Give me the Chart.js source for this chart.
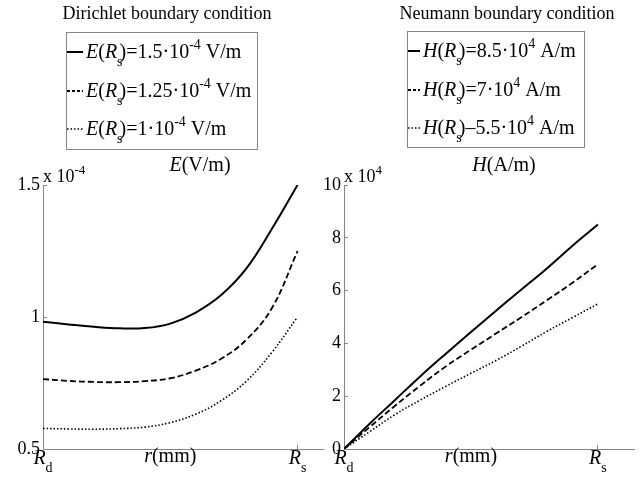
<!DOCTYPE html>
<html>
<head>
<meta charset="utf-8">
<script src="https://cdn.jsdelivr.net/npm/chart.js@4/dist/chart.umd.min.js"></script>
<style>
  body { margin: 0; background: #fff; }
  #wrap { position: relative; width: 642px; height: 479px; }
  #wrap canvas { position: absolute; left: 0; top: 0; }
</style>
</head>
<body>
<div id="wrap">
  <canvas id="chartE" width="642" height="479"></canvas>
  <canvas id="chartH" width="642" height="479"></canvas>
</div>
<script>
// r positions, 0 = Rd, 1 = Rs
var rPos = [0, 0.1, 0.2, 0.3, 0.4, 0.5, 0.6, 0.7, 0.8, 0.9, 1.0];

// Dirichlet: E (x 10^-4 V/m)
var eSolid  = [0.982, 0.972, 0.963, 0.957, 0.958, 0.975, 1.017, 1.083, 1.185, 1.335, 1.5];
var eDashed = [0.765, 0.758, 0.754, 0.753, 0.757, 0.768, 0.797, 0.842, 0.915, 1.035, 1.25];
var eDotted = [0.578, 0.576, 0.575, 0.577, 0.583, 0.600, 0.632, 0.683, 0.758, 0.867, 1.0];

// Neumann: H (x 10^4 A/m)
var hSolid  = [0, 0.95, 1.85, 2.75, 3.6, 4.43, 5.25, 6.05, 6.85, 7.7, 8.5];
var hDashed = [0, 0.82, 1.63, 2.4, 3.12, 3.76, 4.38, 5.0, 5.64, 6.3, 7.0];
var hDotted = [0, 0.65, 1.3, 1.85, 2.37, 2.87, 3.36, 3.9, 4.46, 4.98, 5.5];

var eTicks = [0.5, 1, 1.5];
var hTicks = [0, 2, 4, 6, 8, 10];
var xTickVals = [0, 1];
var xTickSubs = ['d', 's'];

var eLegend = ['=1.5\u00b710', '=1.25\u00b710', '=1\u00b710'];
var hLegend = ['=8.5\u00b710', '=7\u00b710', '\u20135.5\u00b710'];

var FAM = "'Liberation Serif','Times New Roman',serif";
var AXIS = '#858585';
var dashes = [[], [6, 3], [1.5, 2]];
var widths = [2, 1.8, 1.6];

// draws text runs: [text, 'n' | 'i' | 'sub' | 'sup']
function richText(ctx, segs, x, y, size, align, subAdv) {
  var parts = segs.map(function (s) {
    var small = s[1] === 'sub' || s[1] === 'sup';
    var fs = small ? Math.round(size * 0.7) : size;
    var font = (s[1] === 'i' ? 'italic ' : '') + fs + 'px ' + FAM;
    ctx.font = font;
    var w = ctx.measureText(s[0]).width;
    var dy = s[1] === 'sub' ? size * 0.38 : (s[1] === 'sup' ? -size * 0.45 : 0);
    return { t: s[0], font: font, w: s[1] === 'sub' ? w * (subAdv || 0.45) : w, dy: dy };
  });
  var total = parts.reduce(function (a, p) { return a + p.w; }, 0);
  var cx = align === 'center' ? x - total / 2 : x;
  ctx.save();
  ctx.fillStyle = '#000';
  ctx.textAlign = 'left';
  ctx.textBaseline = 'alphabetic';
  parts.forEach(function (p) {
    ctx.font = p.font;
    ctx.fillText(p.t, cx, y + p.dy);
    cx += p.w;
  });
  ctx.restore();
}

function makeSets(arrs) {
  return arrs.map(function (a, i) {
    return {
      data: a.map(function (v, k) { return { x: rPos[k], y: v }; }),
      borderColor: '#000',
      borderWidth: widths[i],
      borderDash: dashes[i],
      pointRadius: 0,
      tension: 0.4,
      fill: false
    };
  });
}

function decorPlugin(cfg) {
  return {
    id: 'decor',
    afterDraw: function (chart) {
      var ctx = chart.ctx;
      var xs = chart.scales.x;
      var area = chart.chartArea;
      // title
      richText(ctx, [[cfg.title, 'n']], cfg.titleX, 19, 18, 'center');
      // legend box
      ctx.save();
      ctx.strokeStyle = AXIS;
      ctx.lineWidth = 1;
      ctx.strokeRect(cfg.box[0] + 0.5, cfg.box[1] + 0.5, cfg.box[2], cfg.box[3]);
      ctx.restore();
      for (var i = 0; i < 3; i++) {
        var by = cfg.rowY[i];
        ctx.save();
        ctx.strokeStyle = '#000';
        ctx.lineWidth = widths[i];
        ctx.setLineDash(i === 1 ? [3, 2] : dashes[i]);
        ctx.beginPath();
        ctx.moveTo(cfg.sample[0], by - 6);
        ctx.lineTo(cfg.sample[1], by - 6);
        ctx.stroke();
        ctx.restore();
        richText(ctx, [[cfg.sym, 'i'], ['(', 'n'], ['R', 'i'], ['s', 'sub'],
          [')' + cfg.legend[i], 'n'], [cfg.exp, 'sup'], [' ' + cfg.unit, 'n']],
          cfg.sample[1] + 3, by, 20, 'left');
      }
      // quantity label
      richText(ctx, [[cfg.sym, 'i'], ['(' + cfg.unit + ')', 'n']], cfg.unitX, 171, 20, 'center');
      // exponent
      richText(ctx, [['x 10', 'n'], [cfg.exp, 'sup']], area.left, 182, 18, 'left');
      // x tick labels Rd, Rs
      xTickVals.forEach(function (v, k) {
        richText(ctx, [['R', 'i'], [xTickSubs[k], 'sub']], xs.getPixelForValue(v), 464, 20, 'center', 1);
      });
      var mid = (xs.getPixelForValue(0) + xs.getPixelForValue(1)) / 2;
      richText(ctx, [['r', 'i'], ['(mm)', 'n']], mid, 462, 20, 'center');
    }
  };
}

function makeChart(id, sets, yMin, yMax, yTicks, xMax, pad, yWidth, deco) {
  return new Chart(document.getElementById(id), {
    type: 'line',
    data: { datasets: makeSets(sets) },
    options: {
      responsive: false,
      animation: false,
      layout: { padding: pad },
      plugins: { legend: { display: false }, tooltip: { enabled: false } },
      scales: {
        x: {
          type: 'linear', min: 0, max: xMax,
          afterBuildTicks: function (s) { s.ticks = xTickVals.map(function (v) { return { value: v }; }); },
          afterFit: function (s) { s.height = 30; },
          ticks: { display: false },
          grid: { drawOnChartArea: false, tickLength: -4, color: AXIS },
          border: { color: AXIS, width: 1 }
        },
        y: {
          min: yMin, max: yMax,
          afterBuildTicks: function (s) { s.ticks = yTicks.map(function (v) { return { value: v }; }); },
          afterFit: function (s) { s.width = yWidth; },
          ticks: {
            color: '#000', padding: 7, font: { family: FAM, size: 18 },
            callback: function (v) { return String(v); }
          },
          grid: { drawOnChartArea: false, tickLength: -4, color: AXIS },
          border: { color: AXIS, width: 1 }
        }
      }
    },
    plugins: [decorPlugin(deco)]
  });
}

makeChart('chartE', [eSolid, eDashed, eDotted], 0.5, 1.5, eTicks, 1.1,
  { left: 0, top: 185, right: 319, bottom: 0 }, 43, {
    title: 'Dirichlet boundary condition', titleX: 167,
    box: [66, 32, 191, 117], rowY: [58, 97, 135], sample: [67, 83],
    sym: 'E', unit: 'V/m', exp: '-4', legend: eLegend, unitX: 200
  });

makeChart('chartH', [hSolid, hDashed, hDotted], 0, 10, hTicks, 1.142,
  { left: 300, top: 185, right: 8, bottom: 0 }, 44, {
    title: 'Neumann boundary condition', titleX: 507,
    box: [407, 31, 177, 116], rowY: [57, 96, 134], sample: [408, 420],
    sym: 'H', unit: 'A/m', exp: '4', legend: hLegend, unitX: 504
  });
</script>
</body>
</html>
